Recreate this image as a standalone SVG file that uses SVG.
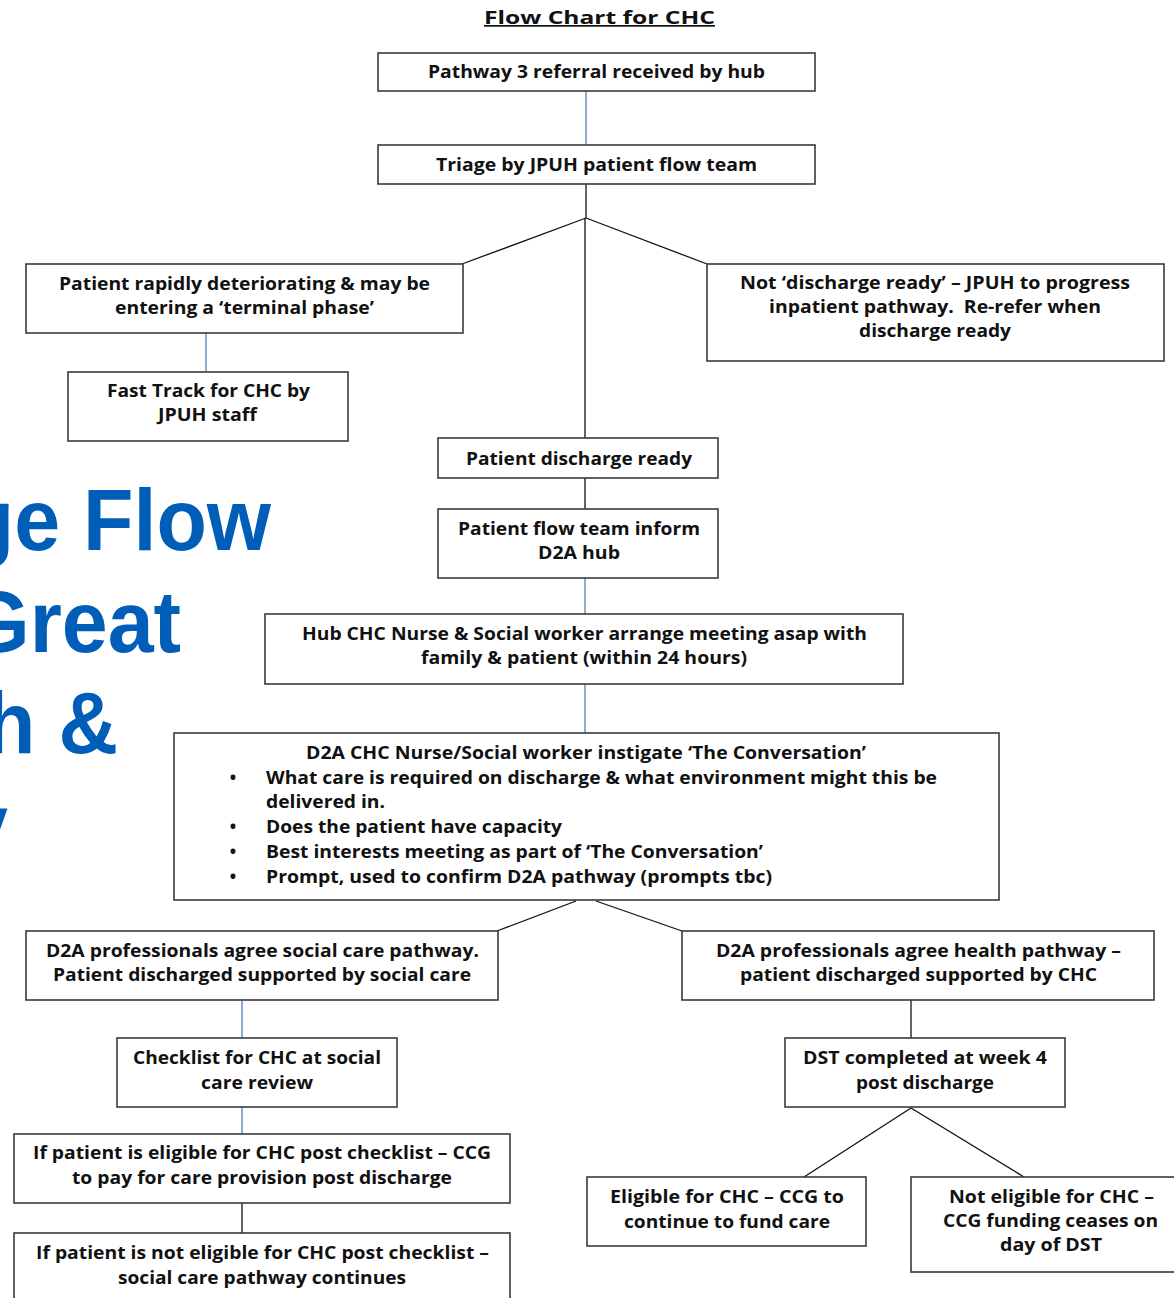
<svg xmlns="http://www.w3.org/2000/svg" width="1174" height="1298" viewBox="0 0 1174 1298">
<style>
.box{fill:#fff;stroke:#3a3a3a;stroke-width:1.6}
.t{font-family:"Open Sans","Noto Sans","Liberation Sans",sans-serif;font-weight:bold;font-size:17px;fill:#111;text-anchor:middle}
.tl{font-family:"Open Sans","Noto Sans","Liberation Sans",sans-serif;font-weight:bold;font-size:17px;fill:#111;text-anchor:start}
.blue{stroke:#4f81bd;stroke-width:1.3;fill:none}
.blk{stroke:#111;stroke-width:1.3;fill:none}
.big{font-family:"Liberation Sans",Arial,sans-serif;font-weight:bold;font-size:88px;fill:#005eb8;text-anchor:end}
</style>
<rect width="1174" height="1298" fill="#fff"/>
<g id="background-title" transform="scale(0.938,1)">
<text class="big" x="288.9" y="550">ge Flow</text>
<text class="big" x="193" y="652">Great</text>
<text class="big" x="125.8" y="753">h &amp;</text>
<text class="big" x="8.5" y="855">y</text>
</g>
<g id="title">
<text class="t" x="599.5" y="24" font-size="22" textLength="231" lengthAdjust="spacingAndGlyphs" text-decoration="underline">Flow Chart for CHC</text>
</g>
<g id="connectors">
<line class="blue" x1="586" y1="91" x2="586" y2="145"/>
<line class="blk" x1="586" y1="184" x2="586" y2="218"/>
<line class="blk" x1="586" y1="218" x2="462" y2="264"/>
<line class="blk" x1="586" y1="218" x2="707" y2="264"/>
<line class="blk" x1="585" y1="218" x2="585" y2="438"/>
<line class="blue" x1="206" y1="333" x2="206" y2="372"/>
<line class="blk" x1="585" y1="478" x2="585" y2="509"/>
<line class="blue" x1="585" y1="578" x2="585" y2="614"/>
<line class="blue" x1="585" y1="684" x2="585" y2="733"/>
<line class="blk" x1="576" y1="901" x2="497" y2="931"/>
<line class="blk" x1="596" y1="901" x2="682" y2="931"/>
<line class="blue" x1="242" y1="1000" x2="242" y2="1038"/>
<line class="blue" x1="242" y1="1107" x2="242" y2="1134"/>
<line class="blk" x1="242" y1="1203" x2="242" y2="1233"/>
<line class="blk" x1="911" y1="1000" x2="911" y2="1038"/>
<line class="blk" x1="911" y1="1108" x2="804" y2="1177"/>
<line class="blk" x1="911" y1="1108" x2="1024" y2="1177"/>
</g>
<g id="n-referral">
<rect class="box" x="378" y="53" width="437" height="38"/>
<text class="t" x="596.5" y="78" textLength="337" lengthAdjust="spacingAndGlyphs">Pathway 3 referral received by hub</text>
</g>
<g id="n-triage">
<rect class="box" x="378" y="145" width="437" height="39"/>
<text class="t" x="596.5" y="171" textLength="321" lengthAdjust="spacingAndGlyphs">Triage by JPUH patient flow team</text>
</g>
<g id="n-deteriorating">
<rect class="box" x="26" y="264" width="437" height="69"/>
<text class="t" x="244.5" y="290" textLength="371" lengthAdjust="spacingAndGlyphs">Patient rapidly deteriorating &amp; may be</text>
<text class="t" x="244.5" y="314" textLength="259" lengthAdjust="spacingAndGlyphs">entering a ‘terminal phase’</text>
</g>
<g id="n-fasttrack">
<rect class="box" x="68" y="372" width="280" height="69"/>
<text class="t" x="208.5" y="397" textLength="203" lengthAdjust="spacingAndGlyphs">Fast Track for CHC by</text>
<text class="t" x="207.5" y="421" textLength="99" lengthAdjust="spacingAndGlyphs">JPUH staff</text>
</g>
<g id="n-notready">
<rect class="box" x="707" y="264" width="457" height="97"/>
<text class="t" x="935" y="289" textLength="390" lengthAdjust="spacingAndGlyphs">Not ‘discharge ready’ – JPUH to progress</text>
<text class="t" x="935" y="313" textLength="332" lengthAdjust="spacingAndGlyphs" xml:space="preserve">inpatient pathway.  Re-refer when</text>
<text class="t" x="935" y="337" textLength="152" lengthAdjust="spacingAndGlyphs">discharge ready</text>
</g>
<g id="n-ready">
<rect class="box" x="438" y="438" width="280" height="40"/>
<text class="t" x="579" y="465" textLength="226" lengthAdjust="spacingAndGlyphs">Patient discharge ready</text>
</g>
<g id="n-inform">
<rect class="box" x="438" y="509" width="280" height="69"/>
<text class="t" x="579" y="535" textLength="242" lengthAdjust="spacingAndGlyphs">Patient flow team inform</text>
<text class="t" x="579" y="559" textLength="82" lengthAdjust="spacingAndGlyphs">D2A hub</text>
</g>
<g id="n-meeting">
<rect class="box" x="265" y="614" width="638" height="70"/>
<text class="t" x="584.5" y="640" textLength="565" lengthAdjust="spacingAndGlyphs">Hub CHC Nurse &amp; Social worker arrange meeting asap with</text>
<text class="t" x="584" y="664" textLength="326" lengthAdjust="spacingAndGlyphs">family &amp; patient (within 24 hours)</text>
</g>
<g id="n-conversation">
<rect class="box" x="174" y="733" width="825" height="167"/>
<text class="t" x="586" y="759" textLength="560" lengthAdjust="spacingAndGlyphs">D2A CHC Nurse/Social worker instigate ‘The Conversation’</text>
<text class="t" x="233" y="784">•</text>
<text class="tl" x="266" y="784" textLength="671" lengthAdjust="spacingAndGlyphs">What care is required on discharge &amp; what environment might this be</text>
<text class="tl" x="266" y="808" textLength="119" lengthAdjust="spacingAndGlyphs">delivered in.</text>
<text class="t" x="233" y="833">•</text>
<text class="tl" x="266" y="833" textLength="296" lengthAdjust="spacingAndGlyphs">Does the patient have capacity</text>
<text class="t" x="233" y="858">•</text>
<text class="tl" x="266" y="858" textLength="497" lengthAdjust="spacingAndGlyphs">Best interests meeting as part of ‘The Conversation’</text>
<text class="t" x="233" y="883">•</text>
<text class="tl" x="266" y="883" textLength="506" lengthAdjust="spacingAndGlyphs">Prompt, used to confirm D2A pathway (prompts tbc)</text>
</g>
<g id="n-social">
<rect class="box" x="26" y="931" width="472" height="69"/>
<text class="t" x="262.5" y="957" textLength="433" lengthAdjust="spacingAndGlyphs">D2A professionals agree social care pathway.</text>
<text class="t" x="262" y="981" textLength="418" lengthAdjust="spacingAndGlyphs">Patient discharged supported by social care</text>
</g>
<g id="n-health">
<rect class="box" x="682" y="931" width="472" height="69"/>
<text class="t" x="918.5" y="957" textLength="405" lengthAdjust="spacingAndGlyphs">D2A professionals agree health pathway –</text>
<text class="t" x="918.5" y="981" textLength="357" lengthAdjust="spacingAndGlyphs">patient discharged supported by CHC</text>
</g>
<g id="n-checklist">
<rect class="box" x="117" y="1038" width="280" height="69"/>
<text class="t" x="257" y="1064" textLength="248" lengthAdjust="spacingAndGlyphs">Checklist for CHC at social</text>
<text class="t" x="257" y="1089" textLength="112" lengthAdjust="spacingAndGlyphs">care review</text>
</g>
<g id="n-eligible-checklist">
<rect class="box" x="14" y="1134" width="496" height="69"/>
<text class="t" x="262" y="1159" textLength="458" lengthAdjust="spacingAndGlyphs">If patient is eligible for CHC post checklist – CCG</text>
<text class="t" x="262" y="1184" textLength="380" lengthAdjust="spacingAndGlyphs">to pay for care provision post discharge</text>
</g>
<g id="n-not-eligible-checklist">
<rect class="box" x="14" y="1233" width="496" height="80"/>
<text class="t" x="262.5" y="1259" textLength="453" lengthAdjust="spacingAndGlyphs">If patient is not eligible for CHC post checklist –</text>
<text class="t" x="262" y="1284" textLength="288" lengthAdjust="spacingAndGlyphs">social care pathway continues</text>
</g>
<g id="n-dst">
<rect class="box" x="785" y="1038" width="280" height="69"/>
<text class="t" x="925" y="1064" textLength="244" lengthAdjust="spacingAndGlyphs">DST completed at week 4</text>
<text class="t" x="925" y="1089" textLength="138" lengthAdjust="spacingAndGlyphs">post discharge</text>
</g>
<g id="n-eligible">
<rect class="box" x="587" y="1177" width="279" height="69"/>
<text class="t" x="727" y="1203" textLength="234" lengthAdjust="spacingAndGlyphs">Eligible for CHC – CCG to</text>
<text class="t" x="727" y="1228" textLength="206" lengthAdjust="spacingAndGlyphs">continue to fund care</text>
</g>
<g id="n-not-eligible">
<rect class="box" x="911" y="1177" width="280" height="95"/>
<text class="t" x="1051.5" y="1203" textLength="205" lengthAdjust="spacingAndGlyphs">Not eligible for CHC –</text>
<text class="t" x="1050.5" y="1227" textLength="215" lengthAdjust="spacingAndGlyphs">CCG funding ceases on</text>
<text class="t" x="1051" y="1251" textLength="102" lengthAdjust="spacingAndGlyphs">day of DST</text>
</g>
</svg>
